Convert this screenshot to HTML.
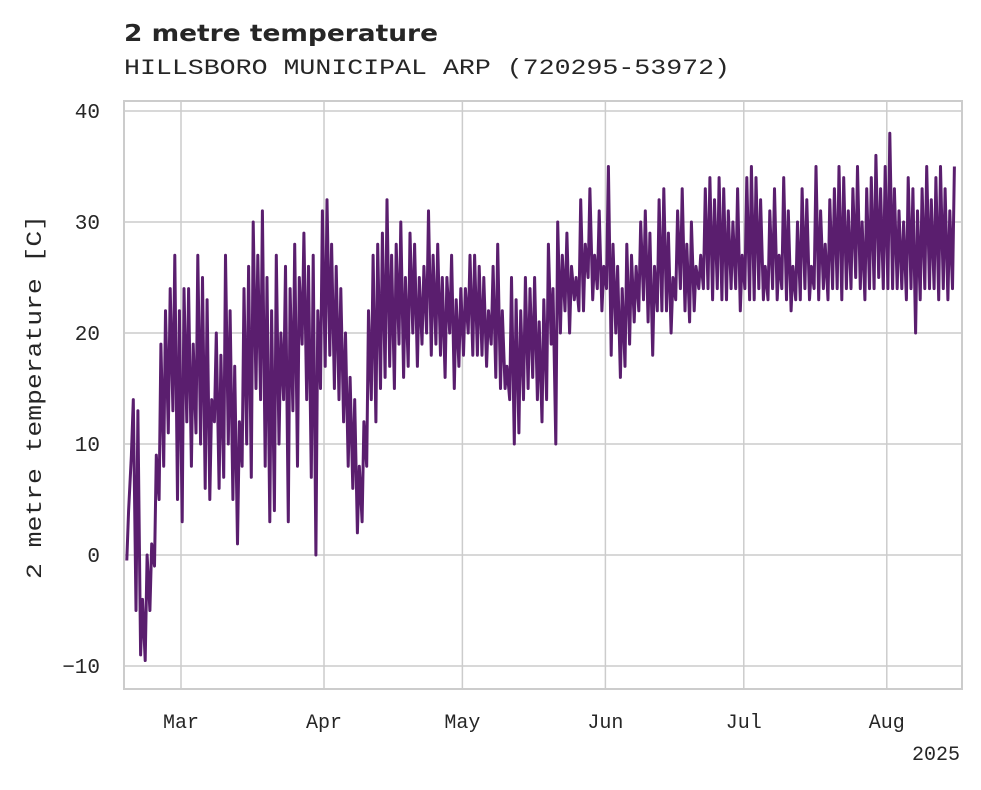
<!DOCTYPE html>
<html><head><meta charset="utf-8"><style>
body{margin:0;background:#fff;width:981px;height:785px;overflow:hidden}
text{font-family:"Liberation Mono",monospace;fill:#262626}
</style></head><body>
<svg id="chart" width="981" height="785" xmlns="http://www.w3.org/2000/svg">
<text x="124" y="41" textLength="314" lengthAdjust="spacingAndGlyphs" style="font-family:'DejaVu Sans','Liberation Sans',sans-serif;font-weight:bold;font-size:23px">2 metre temperature</text>
<text x="124" y="74" textLength="606" lengthAdjust="spacingAndGlyphs" style="font-size:22px">HILLSBORO MUNICIPAL ARP (720295-53972)</text>
<g id="grid"></g>
<rect x="124" y="101" width="838" height="588" fill="none" stroke="#cccccc" stroke-width="2"/>
<g id="series"></g>
<g id="ticks"></g>
<text transform="translate(41,397) rotate(-90)" text-anchor="middle" textLength="364" lengthAdjust="spacingAndGlyphs" style="font-size:22px">2 metre temperature [C]</text>
<text x="960" y="760" text-anchor="end" style="font-size:20px">2025</text>
</svg>
<script>
const yTicks=[-10,0,10,20,30,40];
const monthLabels=["Mar","Apr","May","Jun","Jul","Aug"];
const monthDays=[12,43,73,104,134,165]; // day index from Feb 17
const highs=[4,14,13,-4,0,1,9,19,22,24,27,22,
24,24,19,27,25,23,14,20,18,27,22,17,12,24,26,30,27,31,25,22,27,20,26,24,28,25,29,26,27,22,31,
32,28,26,24,20,16,14,8,12,22,27,28,29,32,27,28,30,25,29,28,25,26,31,27,28,25,25,27,23,24,
24,27,27,26,25,22,26,28,22,17,25,23,22,25,24,25,21,23,28,24,30,27,29,26,25,32,28,33,27,31,26,
35,28,26,24,28,27,26,30,31,29,26,32,33,29,25,31,33,28,30,26,27,33,34,32,34,33,31,30,33,27,
34,35,34,32,26,31,33,27,34,31,26,30,33,32,26,35,31,28,32,33,35,34,31,33,35,30,33,34,36,33,35,
38,33,31,30,34,33,31,33,35,32,34,35,33,31,35];
const lows=[-0.5,9,-5,-9,-9.5,-5,-1,5,8,11,13,5,
3,12,8,11,10,6,5,12,6,7,10,5,1,8,10,7,15,14,8,3,4,10,14,3,13,8,19,14,7,0,15,
17,18,15,14,12,8,6,2,3,8,14,12,15,16,17,15,19,16,17,20,17,19,20,18,19,18,16,20,15,17,
18,20,18,18,18,17,19,16,15,15,14,10,11,14,15,16,14,12,14,19,10,20,22,20,23,22,22,25,23,24,22,
24,18,20,16,17,19,21,22,23,21,18,22,22,22,20,23,24,22,21,22,24,24,24,23,24,23,23,24,24,22,
24,23,23,24,23,23,24,23,24,23,22,23,23,24,23,24,23,24,23,24,24,23,24,24,25,24,23,24,24,25,24,
24,24,24,24,23,24,20,23,24,24,24,23,24,23,24];
const NS="http://www.w3.org/2000/svg";
const X=d=>181+(d-12)*4.613;
const Y=v=>555-v*11.1;
const grid=document.getElementById('grid'),ticks=document.getElementById('ticks'),series=document.getElementById('series');
yTicks.forEach(v=>{
 const l=document.createElementNS(NS,'line');
 
 
 l.setAttribute('x1',124);l.setAttribute('x2',962);l.setAttribute('y1',Y(v));l.setAttribute('y2',Y(v));
 l.setAttribute('stroke','#cccccc');l.setAttribute('stroke-width','1.5');grid.appendChild(l);
 const t=document.createElementNS(NS,'text');
 
 
 t.setAttribute('x',100);t.setAttribute('y',Y(v)+7);t.setAttribute('text-anchor','end');t.setAttribute('font-size','21');
 t.textContent=v<0?'\u2212'+Math.abs(v):v;ticks.appendChild(t);
});
monthDays.forEach((d,i)=>{
 const l=document.createElementNS(NS,'line');
 
 
 l.setAttribute('x1',X(d));l.setAttribute('x2',X(d));l.setAttribute('y1',101);l.setAttribute('y2',689);
 l.setAttribute('stroke','#cccccc');l.setAttribute('stroke-width','1.5');grid.appendChild(l);
 const t=document.createElementNS(NS,'text');
 
 
 t.setAttribute('x',X(d));t.setAttribute('y',728);t.setAttribute('text-anchor','middle');t.setAttribute('font-size','20');
 t.textContent=monthLabels[i];ticks.appendChild(t);
});
let pts=[];
highs.forEach((h,i)=>{
 pts.push(X(i+0.25).toFixed(1)+','+Y(lows[i]).toFixed(1));
 pts.push(X(i+0.65).toFixed(1)+','+Y(h).toFixed(1));
});
const p=document.createElementNS(NS,'polyline');


p.setAttribute('points',pts.join(' '));p.setAttribute('fill','none');
p.setAttribute('stroke','#5a1e6e');p.setAttribute('stroke-width','3');p.setAttribute('stroke-linejoin','round');
series.appendChild(p);
</script>
</body></html>
